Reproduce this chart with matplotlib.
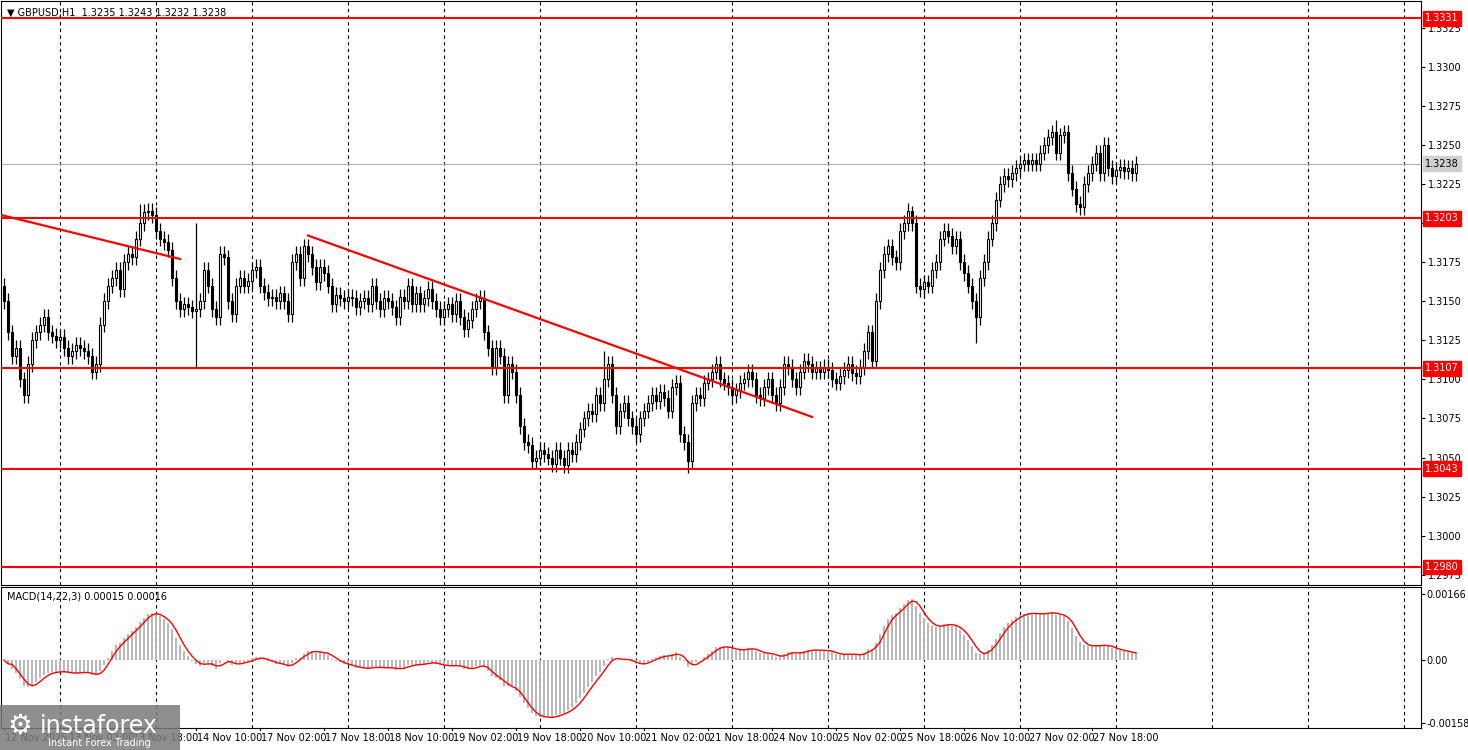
import numpy as np
import matplotlib
matplotlib.use("Agg")
import matplotlib.pyplot as plt
from matplotlib.patches import Rectangle

closes = [
1.3150,1.3130,1.3115,1.3120,1.3100,1.3090,1.3110,1.3125,1.3130,1.3135,1.3140,1.3130,1.3128,1.3125,1.3127,1.3120,1.3115,1.3118,1.3122,1.3120,1.3118,1.3115,1.3105,1.3110,
1.3135,1.3150,1.3160,1.3165,1.3170,1.3158,1.3175,1.3180,1.3178,1.3190,1.3200,1.3207,1.3208,1.3205,1.3195,1.3190,1.3188,1.3183,1.3165,1.3150,1.3145,1.3148,1.3146,1.3144,
1.3145,1.3150,1.3170,1.3160,1.3145,1.3140,1.3180,1.3178,1.3150,1.3142,1.3160,1.3165,1.3160,1.3163,1.3170,1.3172,1.3160,1.3156,1.3152,1.3153,1.3150,1.3155,1.3150,1.3142,
1.3175,1.3180,1.3165,1.3185,1.3180,1.3172,1.3162,1.3172,1.3168,1.3160,1.3148,1.3154,1.3152,1.3150,1.3153,1.3152,1.3146,1.3150,1.3152,1.3148,1.3160,1.3150,1.3145,1.3152,
1.3150,1.3146,1.3140,1.3153,1.3150,1.3160,1.3148,1.3155,1.3148,1.3152,1.3158,1.3150,1.3145,1.3140,1.3145,1.3148,1.3142,1.3150,1.3140,1.3132,1.3138,1.3145,1.3150,1.3152,
1.3130,1.3120,1.3108,1.3120,1.3115,1.3090,1.3110,1.3105,1.3090,1.3070,1.3060,1.3058,1.3048,1.3050,1.3055,1.3052,1.3050,1.3046,1.3055,1.3050,1.3045,1.3055,1.3052,1.3060,
1.3068,1.3075,1.3080,1.3078,1.3090,1.3085,1.3100,1.3110,1.3090,1.3070,1.3080,1.3085,1.3075,1.3070,1.3065,1.3075,1.3080,1.3085,1.3090,1.3086,1.3092,1.3088,1.3080,1.3095,
1.3098,1.3065,1.3060,1.3048,1.3085,1.3090,1.3088,1.3098,1.3100,1.3105,1.3110,1.3100,1.3098,1.3095,1.3090,1.3093,1.3098,1.3100,1.3105,1.3100,1.3090,1.3088,1.3095,1.3100,
1.3090,1.3085,1.3095,1.3110,1.3108,1.3100,1.3095,1.3105,1.3112,1.3110,1.3105,1.3107,1.3105,1.3108,1.3106,1.3100,1.3098,1.3102,1.3106,1.3110,1.3104,1.3102,1.3108,1.3118,
1.3130,1.3112,1.3150,1.3170,1.3180,1.3185,1.3178,1.3175,1.3195,1.3200,1.3208,1.3200,1.3160,1.3158,1.3162,1.3160,1.3170,1.3175,1.3190,1.3195,1.3192,1.3185,1.3190,1.3175,
1.3168,1.3160,1.3150,1.3140,1.3165,1.3175,1.3190,1.3200,1.3215,1.3225,1.3230,1.3228,1.3232,1.3235,1.3238,1.3240,1.3238,1.3240,1.3238,1.3245,1.3250,1.3255,1.3258,1.3245,
1.3256,1.3258,1.3232,1.3222,1.3212,1.3210,1.3225,1.3232,1.3238,1.3245,1.3232,1.3250,1.3235,1.3230,1.3234,1.3236,1.3233,1.3235,1.3232,1.3238]
first_open = 1.3160
wick = 0.0005
spike_idx = [6, 48, 34, 150, 171, 227, 243, 263]
spike_high = [None, 1.3200, 1.3212, 1.3118, None, 1.3211, None, 1.3266]
spike_low = [1.3085, 1.3108, None, None, 1.3040, None, 1.3123, None]

levels = [1.3331, 1.3203, 1.3107, 1.3043, 1.2980]
current = 1.3238
trend1 = ([-0.5, 44], [1.3205, 1.3177])
trend2 = ([76, 202], [1.3192, 1.3076])

tick_pos = [0, 16, 32, 48, 64, 80, 96, 112, 128, 144, 160, 176, 192, 208, 224, 240, 256, 272]
tick_lab = ["12 Nov 2025", "13 Nov 02:00", "13 Nov 18:00", "14 Nov 10:00", "17 Nov 02:00",
            "17 Nov 18:00", "18 Nov 10:00", "19 Nov 02:00", "19 Nov 18:00", "20 Nov 10:00",
            "21 Nov 02:00", "21 Nov 18:00", "24 Nov 10:00", "25 Nov 02:00", "25 Nov 18:00",
            "26 Nov 10:00", "27 Nov 02:00", "27 Nov 18:00"]

c = np.array(closes)
o = np.concatenate([[first_open], c[:-1]])
h = np.maximum(o, c) + wick
l = np.minimum(o, c) - wick
for i, hh, ll in zip(spike_idx, spike_high, spike_low):
    if hh is not None: h[i] = hh
    if ll is not None: l[i] = ll
n = len(c)
x = np.arange(n)

W, H = 1468, 750
fig = plt.figure(figsize=(W/100, H/100), dpi=100)
fs = 7
def ax_rect(x0, y0, x1, y1):
    return [x0/W, 1-y1/H, (x1-x0)/W, (y1-y0)/H]
ax = fig.add_axes(ax_rect(1, 1, 1421, 585))
ax2 = fig.add_axes(ax_rect(1, 587, 1421, 728))
xl = (-0.75, 354.25)

for a in (ax, ax2):
    a.set_xlim(*xl)
    a.set_xticks([])
    for s in a.spines.values():
        s.set_color("black"); s.set_linewidth(0.8)
    a.yaxis.tick_right()
    a.tick_params(axis='y', labelsize=fs, length=3, pad=2)
    for g in range(15, 360, 24):
        a.axvline(g - 1.1, color="black", ls=(0, (3, 3)), lw=0.8, zorder=0)

ymin, ymax = 1.29685, 1.3342
ax.set_ylim(ymin, ymax)
yt = np.arange(1.2975, 1.3330, 0.0025)
ax.set_yticks(yt)
ax.set_yticklabels([f"{v:.4f}" for v in yt])

for i in range(n):
    ax.vlines(x[i], l[i], h[i], color="black", lw=0.9, zorder=3)
    b0, b1 = min(o[i], c[i]), max(o[i], c[i])
    if b1 - b0 < 0.00005: b1 = b0 + 0.00005
    fc = "white" if c[i] >= o[i] else "black"
    ax.add_patch(Rectangle((x[i]-0.3, b0), 0.6, b1-b0, facecolor=fc, edgecolor="black", lw=0.8, zorder=4))

ax.axhline(current, color="#b0b0b0", lw=0.8, zorder=1)
for lv in levels:
    ax.axhline(lv, color="red", lw=1.5, zorder=5)
    ax.text(1.003, lv, f"{lv:.4f}", transform=ax.get_yaxis_transform(), fontsize=fs, color="white",
            va="center", ha="left", zorder=10, clip_on=False,
            bbox=dict(boxstyle="square,pad=0.25", fc="red", ec="red"))
ax.text(1.003, current, f"{current:.4f}", transform=ax.get_yaxis_transform(), fontsize=fs, color="black",
        va="center", ha="left", clip_on=False, bbox=dict(boxstyle="square,pad=0.25", fc="#d0d0d0", ec="#d0d0d0"))
ax.plot(*trend1, color="red", lw=1.6, zorder=6)
ax.plot(*trend2, color="red", lw=1.6, zorder=6)
ax.text(0.004, 0.988, "▼ GBPUSD,H1  1.3235 1.3243 1.3232 1.3238", transform=ax.transAxes, fontsize=fs, va="top")

# MACD
def ema(v, p):
    k = 2/(p+1); out = np.empty_like(v); out[0] = v[0]
    for i in range(1, len(v)): out[i] = v[i]*k + out[i-1]*(1-k)
    return out
macd = ema(c, 14) - ema(c, 22)
sig = np.convolve(macd, np.ones(3)/3, mode="full")[:n]
sig[:2] = macd[:2]
ax2.bar(x, macd, width=0.6, color="#b8b8b8", zorder=2)
ax2.plot(x, sig, color="red", lw=1, zorder=3)
ax2.set_ylim(-0.00171, 0.00184)
ax2.set_yticks([0.00166, 0.0, -0.00158])
ax2.set_yticklabels(["0.00166", "0.00", "-0.00158"])
ax2.tick_params(axis='y', pad=1)
ax2.text(0.004, 0.97, "MACD(14,22,3) 0.00015 0.00016", transform=ax2.transAxes, fontsize=fs, va="top")

for p, t in zip(tick_pos, tick_lab):
    ax2.plot([p, p], [-0.00171, -0.00171-0.00006], color="black", lw=0.8, clip_on=False)
    ax2.text(p + 0.3, -0.00171 - 0.00012, t, fontsize=fs, va="top", ha="left")

# watermark
fig.patches.append(Rectangle((0, 0), 180/W, 45/H, transform=fig.transFigure, fc="#7a7a7a", alpha=0.85, zorder=20))
fig.text(40/W, 24/H, "instaforex", fontsize=17, color="white", zorder=21, va="center")
fig.text(48/W, 7/H, "Instant Forex Trading", fontsize=7, color="white", zorder=21, va="center")
fig.text(20/W, 24/H, "⚙", fontsize=20, color="white", zorder=21, va="center", ha="center")

fig.savefig("out.png", dpi=100)
